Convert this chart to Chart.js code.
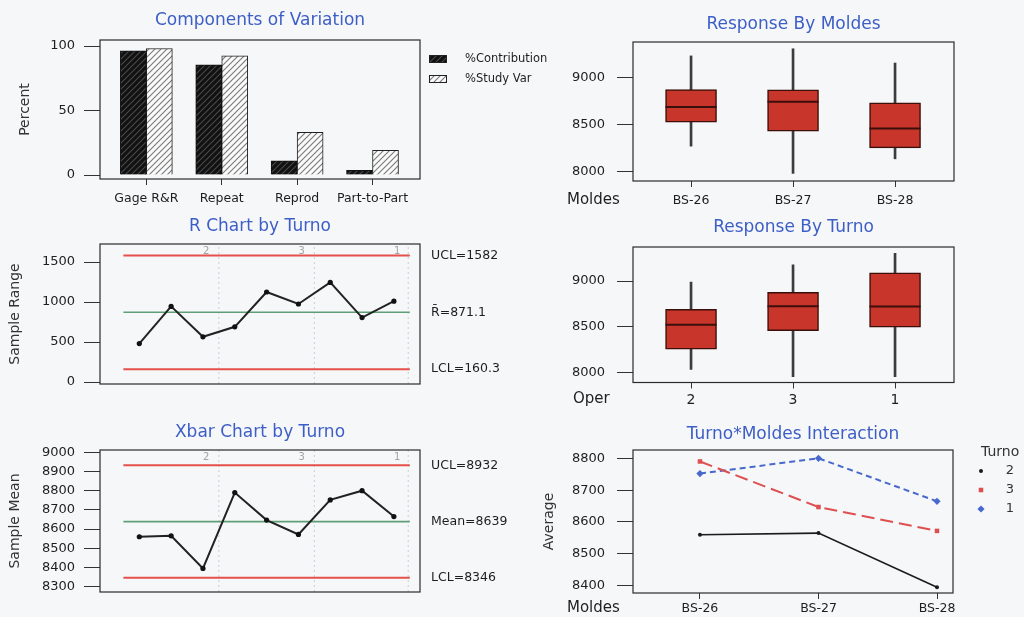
<!DOCTYPE html>
<html lang="en">
<head>
<meta charset="utf-8">
<title>Gage R&amp;R (ANOVA)</title>
<script src="https://cdn.jsdelivr.net/npm/chart.js@4.4.1/dist/chart.umd.min.js"></script>
<style>
  html, body { margin: 0; padding: 0; background: #f6f7f9; }
  #sheet { position: relative; width: 1024px; height: 617px; overflow: hidden; }
  #sheet canvas { position: absolute; }
</style>
</head>
<body>
<div id="sheet"></div>
<script>
// ---- data ----
const components = ['Gage R&R', 'Repeat', 'Reprod', 'Part-to-Part'];
const pctContribution = [96.3, 85.4, 10.9, 3.7];
const pctStudyVar = [98.1, 92.4, 33.0, 19.2];
const percentTicks = [0, 50, 100];

const subgroups = [1, 2, 3, 4, 5, 6, 7, 8, 9];
const sampleRange = [480, 945, 565, 690, 1125, 975, 1245, 805, 1010];
const rangeTicks = [0, 500, 1000, 1500];
const rUCL = 1582, rBar = 871.1, rLCL = 160.3;

const sampleMean = [8560, 8565, 8395, 8790, 8647, 8572, 8752, 8800, 8665];
const meanTicks = [8300, 8400, 8500, 8600, 8700, 8800, 8900, 9000];
const xUCL = 8932, xMean = 8639, xLCL = 8346;

const turnoOrder = ['2', '3', '1'];
const groupLast = [3, 6, 9];
const groupBreaks = [3.5, 6.5, 9.45];
const limitSpan = [0.5, 9.5];

const moldes = ['BS-26', 'BS-27', 'BS-28'];
const moldesMin = [8270, 7980, 8135];
const moldesQ1 = [8524, 8428, 8251];
const moldesMedian = [8686, 8743, 8457];
const moldesQ3 = [8871, 8868, 8731];
const moldesMax = [9230, 9306, 9154];

const turnoMin = [8032, 7954, 7954];
const turnoQ1 = [8255, 8457, 8494];
const turnoMedian = [8521, 8725, 8720];
const turnoQ3 = [8691, 8877, 9089];
const turnoMax = [8989, 9178, 9302];
const responseTicks = [8000, 8500, 9000];

const turno2Avg = [8560, 8565, 8395];
const turno3Avg = [8790, 8647, 8572];
const turno1Avg = [8752, 8800, 8665];
const averageTicks = [8400, 8500, 8600, 8700, 8800];

// ---- look ----
const FONT = '"DejaVu Sans", "Liberation Sans", Arial, sans-serif';
const TITLE_BLUE = '#3d5ec6';
const TITLE_SIZE = 17;
const TITLE_LH = TITLE_SIZE * 1.2;
const INK = '#1e1e1e';
const LIMIT_RED = '#e4504a';
const CENTER_GREEN = '#5f9f78';
const BOX_RED = '#c8352b';
const BOX_EDGE = '#3b0f0b';

Chart.defaults.font.family = FONT;
Chart.defaults.color = INK;
Chart.defaults.animation = false;
Chart.defaults.plugins.legend.display = false;
Chart.defaults.plugins.tooltip.enabled = false;

// box around every plot area
Chart.register({
  id: 'frame',
  afterDraw(chart) {
    const { ctx, chartArea: a } = chart;
    ctx.save();
    ctx.strokeStyle = '#2a2a2a';
    ctx.lineWidth = 1.2;
    ctx.strokeRect(a.left, a.top, a.right - a.left, a.bottom - a.top);
    ctx.restore();
  }
});

function makeCanvas(rect) {
  const c = document.createElement('canvas');
  c.width = rect.w;
  c.height = rect.h;
  c.style.left = rect.x + 'px';
  c.style.top = rect.y + 'px';
  document.getElementById('sheet').appendChild(c);
  return c;
}

// places the plot area of a panel at fixed page coordinates
function panelSetup(rect, plot, yWidth, xHeight, titleGap, titleText) {
  const tb = titleGap - TITLE_LH / 2;
  return {
    layout: {
      padding: {
        left: plot.l - rect.x - yWidth,
        right: rect.x + rect.w - plot.r,
        top: plot.t - rect.y - TITLE_LH - tb,
        bottom: rect.y + rect.h - xHeight - plot.b
      }
    },
    title: {
      display: true, text: titleText, fullSize: false, color: TITLE_BLUE,
      font: { size: TITLE_SIZE, weight: 'normal' }, padding: { top: 0, bottom: tb }
    }
  };
}

function yAxis(min, max, ticks, width, opts) {
  const o = opts || {};
  return {
    type: 'linear', position: 'left', min, max,
    afterBuildTicks: s => { s.ticks = ticks.map(v => ({ value: v })); },
    afterFit: s => { s.width = width; },
    grid: { drawOnChartArea: false, tickLength: o.tick || 16, tickColor: '#333', tickWidth: 1 },
    border: { display: false },
    ticks: { font: { size: 13 }, padding: o.pad || 9, color: INK, callback: v => String(v) },
    title: {
      display: !!o.title, text: o.title || '', color: '#333',
      font: { size: 14 }, padding: { top: o.titlePad || 0, bottom: 0 }
    }
  };
}

function xAxis(min, max, positions, labels, height, fontSize, pad) {
  return {
    type: 'linear', position: 'bottom', min, max, offset: false,
    display: height > 0,
    afterBuildTicks: s => { s.ticks = positions.map(v => ({ value: v })); },
    afterFit: s => { s.height = height; },
    grid: { drawOnChartArea: false, offset: false, tickLength: 6, tickColor: '#333' },
    border: { display: false },
    ticks: {
      font: { size: fontSize || 12.5 }, padding: pad === undefined ? 5 : pad, color: INK,
      autoSkip: false, maxRotation: 0, callback: (v, i) => labels[i]
    }
  };
}

function textPlugin(id, items) {
  return {
    id,
    afterDraw(chart) {
      const ctx = chart.ctx;
      ctx.save();
      items.forEach(t => {
        ctx.font = (t.size || 13) + 'px ' + FONT;
        ctx.fillStyle = t.color || INK;
        ctx.textAlign = t.align || 'left';
        ctx.textBaseline = 'middle';
        ctx.fillText(t.text, t.x(chart), t.y(chart));
      });
      ctx.restore();
    }
  };
}

function hatch(ctx, bg, fg) {
  const c = document.createElement('canvas');
  c.width = 6; c.height = 6;
  const g = c.getContext('2d');
  g.fillStyle = bg;
  g.fillRect(0, 0, 6, 6);
  g.strokeStyle = fg;
  g.lineWidth = 1.1;
  g.beginPath();
  g.moveTo(-1, 7); g.lineTo(7, -1);
  g.moveTo(-4, 4); g.lineTo(4, -4);
  g.moveTo(2, 10); g.lineTo(10, 2);
  g.stroke();
  return ctx.createPattern(c, 'repeat');
}

// ---- Components of Variation ----
(function () {
  const rect = { x: 0, y: 0, w: 560, h: 210 };
  const plot = { l: 100, t: 40, r: 420, b: 179 };
  const canvas = makeCanvas(rect);
  const ctx = canvas.getContext('2d');
  const darkHatch = hatch(ctx, '#111', '#4a4a4a');
  const lightHatch = hatch(ctx, '#fafafa', '#7a7a7a');
  const setup = panelSetup(rect, plot, 84, 31, 19, 'Components of Variation');
  const idx = components.map((_, i) => i);

  const legend = {
    id: 'compLegend',
    afterDraw(chart) {
      const c = chart.ctx;
      [['%Contribution', darkHatch, 59], ['%Study Var', lightHatch, 79]].forEach(([label, fill, y]) => {
        c.save();
        c.fillStyle = fill;
        c.fillRect(429, y - 3.5, 17, 7);
        c.strokeStyle = '#222';
        c.lineWidth = 1;
        c.strokeRect(429.5, y - 3.5, 17, 7);
        c.font = '11.5px ' + FONT;
        c.fillStyle = INK;
        c.textBaseline = 'middle';
        c.fillText(label, 465, y);
        c.restore();
      });
    }
  };

  new Chart(canvas, {
    type: 'bar',
    data: {
      datasets: [
        {
          label: '%Contribution',
          data: idx.map(i => ({ x: i, y: pctContribution[i] })),
          backgroundColor: darkHatch, borderColor: '#111', borderWidth: 1,
          barThickness: 26
        },
        {
          label: '%Study Var',
          data: idx.map(i => ({ x: i, y: pctStudyVar[i] })),
          backgroundColor: lightHatch, borderColor: '#222', borderWidth: 1,
          barThickness: 26
        }
      ]
    },
    options: {
      responsive: false,
      layout: setup.layout,
      plugins: { title: setup.title },
      scales: {
        x: xAxis(-0.615, 3.63, idx, components, 31, 12.5, 6),
        y: yAxis(-3.1, 104.7, percentTicks, 84, { title: 'Percent', titlePad: 0.6, tick: 16, pad: 9 })
      }
    },
    plugins: [legend]
  });
})();

// ---- R and Xbar charts by Turno ----
function controlChart(rect, plot, titleGap, titleText, yTitle, values, limits, labels, yMin, yMax, yTicks) {
  const canvas = makeCanvas(rect);
  const setup = panelSetup(rect, plot, 94, 0, titleGap, titleText);
  const flat = (y, color, width) => ({
    data: limitSpan.map(x => ({ x, y })),
    showLine: true, borderColor: color, borderWidth: width, pointRadius: 0
  });
  const breaks = groupBreaks.map(b => ({
    data: [{ x: b, y: yMin }, { x: b, y: yMax }],
    showLine: true, borderColor: '#c9cdd6', borderWidth: 1, borderDash: [2, 3], pointRadius: 0
  }));

  const side = textPlugin('limitLabels', labels.map((txt, i) => ({
    text: txt, size: 12.5,
    x: ch => ch.chartArea.right + 11,
    y: ch => ch.scales.y.getPixelForValue(limits[i])
  })));
  const groups = textPlugin('groupLabels', turnoOrder.map((g, i) => ({
    text: g, size: 10, color: '#a3a3a3', align: 'center',
    x: ch => ch.scales.x.getPixelForValue(groupLast[i] + 0.1),
    y: ch => ch.chartArea.top + 7
  })));

  new Chart(canvas, {
    type: 'scatter',
    data: {
      datasets: [
        {
          data: subgroups.map((s, i) => ({ x: s, y: values[i] })),
          showLine: true, borderColor: '#222', borderWidth: 2,
          pointRadius: 2.6, pointBackgroundColor: '#111', pointBorderWidth: 0
        },
        flat(limits[0], LIMIT_RED, 2),
        flat(limits[1], CENTER_GREEN, 1.6),
        flat(limits[2], LIMIT_RED, 2),
        ...breaks
      ]
    },
    options: {
      responsive: false,
      layout: setup.layout,
      plugins: { title: setup.title },
      scales: {
        x: xAxis(-0.235, 9.82, [], [], 0),
        y: yAxis(yMin, yMax, yTicks, 94, { title: yTitle, titlePad: 0.6, tick: 16, pad: 9 })
      }
    },
    plugins: [side, groups]
  });
}

controlChart(
  { x: 0, y: 210, w: 560, h: 200 }, { l: 100, t: 244, r: 420, b: 384 }, 17,
  'R Chart by Turno', 'Sample Range', sampleRange,
  [rUCL, rBar, rLCL], ['UCL=' + rUCL, 'R\u0304=' + rBar, 'LCL=' + rLCL],
  -25, 1725, rangeTicks
);

controlChart(
  { x: 0, y: 410, w: 560, h: 207 }, { l: 100, t: 450, r: 420, b: 592 }, 17,
  'Xbar Chart by Turno', 'Sample Mean', sampleMean,
  [xUCL, xMean, xLCL], ['UCL=' + xUCL, 'Mean=' + xMean, 'LCL=' + xLCL],
  8272, 9012, meanTicks
);

// ---- box plots ----
function boxChart(rect, plot, titleGap, titleText, cats, lo, q1, med, q3, hi, yMin, yMax,
                  factorName, factorX, xHeight, fontSize, pad, labelDrop) {
  const canvas = makeCanvas(rect);
  const setup = panelSetup(rect, plot, 70, xHeight, titleGap, titleText);
  const idx = cats.map((_, i) => i);
  const factor = textPlugin('factorName', [{
    text: factorName, size: 15,
    x: () => factorX - rect.x,
    y: ch => ch.chartArea.bottom + labelDrop
  }]);

  new Chart(canvas, {
    type: 'bar',
    data: {
      datasets: [
        {
          data: idx.map(i => ({ x: i, y: [lo[i], hi[i]] })),
          backgroundColor: '#3c3c3c', borderWidth: 0,
          barThickness: 2, grouped: false, order: 3
        },
        {
          data: idx.map(i => ({ x: i, y: [q1[i], q3[i]] })),
          backgroundColor: BOX_RED, borderColor: BOX_EDGE, borderWidth: 1.5,
          borderSkipped: false, barThickness: 51, grouped: false, order: 2
        },
        {
          type: 'scatter',
          data: idx.map(i => ({ x: i, y: med[i] })),
          pointStyle: 'line', pointRadius: 25.5, borderColor: BOX_EDGE, borderWidth: 2,
          order: 1
        }
      ]
    },
    options: {
      responsive: false,
      layout: setup.layout,
      plugins: { title: setup.title },
      scales: {
        x: xAxis(-0.569, 2.578, idx, cats, xHeight, fontSize, pad),
        y: yAxis(yMin, yMax, responseTicks, 70, { tick: 16, pad: 12 })
      }
    },
    plugins: [factor]
  });
}

boxChart({ x: 560, y: 0, w: 464, h: 210 }, { l: 633, t: 42, r: 954, b: 181 }, 17,
  'Response By Moldes', moldes, moldesMin, moldesQ1, moldesMedian, moldesQ3, moldesMax,
  7899, 9378, 'Moldes', 567, 29, 12.5, 6, 19);

boxChart({ x: 560, y: 210, w: 464, h: 200 }, { l: 633, t: 247, r: 954, b: 386 }, 19,
  'Response By Turno', turnoOrder, turnoMin, turnoQ1, turnoMedian, turnoQ3, turnoMax,
  7890, 9372, 'Oper', 573, 24, 14, 3.5, 17);

// ---- Turno*Moldes interaction ----
(function () {
  const rect = { x: 520, y: 410, w: 504, h: 207 };
  const plot = { l: 633, t: 450, r: 953, b: 593 };
  const canvas = makeCanvas(rect);
  const setup = panelSetup(rect, plot, 94, 23, 15, 'Turno*Moldes Interaction');
  const idx = moldes.map((_, i) => i);
  const series = [
    { name: '2', values: turno2Avg, color: '#1b1b1b', dash: [], style: 'circle', r: 2, w: 1.6 },
    { name: '3', values: turno3Avg, color: '#de4f50', dash: [13, 6], style: 'rect', r: 3.2, w: 2 },
    { name: '1', values: turno1Avg, color: '#4768cc', dash: [6, 4], style: 'rectRot', r: 3.6, w: 2 }
  ];

  const legend = {
    id: 'turnoLegend',
    afterDraw(chart) {
      const c = chart.ctx;
      c.save();
      c.font = '14px ' + FONT;
      c.fillStyle = '#333';
      c.textBaseline = 'middle';
      c.fillText('Turno', 981 - rect.x, 452 - rect.y);
      series.forEach((s, k) => {
        const y = 471 + k * 19 - rect.y;
        c.fillStyle = s.color;
        c.strokeStyle = s.color;
        Chart.helpers.drawPoint(c, { pointStyle: s.style, rotation: 0, radius: s.r, borderWidth: 0 }, 981 - rect.x, y);
        c.fillStyle = '#333';
        c.textAlign = 'center';
        c.font = '13px ' + FONT;
        c.fillText(s.name, 1010 - rect.x, y);
        c.textAlign = 'left';
      });
      c.restore();
    }
  };
  const factor = textPlugin('interFactor', [{
    text: 'Moldes', size: 15, x: () => 567 - rect.x, y: ch => ch.chartArea.bottom + 15
  }]);

  new Chart(canvas, {
    type: 'scatter',
    data: {
      datasets: series.map(s => ({
        label: s.name,
        data: idx.map(i => ({ x: i, y: s.values[i] })),
        showLine: true, borderColor: s.color, borderWidth: s.w, borderDash: s.dash,
        pointStyle: s.style, pointRadius: s.r, pointBackgroundColor: s.color, pointBorderWidth: 0
      }))
    },
    options: {
      responsive: false,
      layout: setup.layout,
      plugins: { title: setup.title },
      scales: {
        x: xAxis(-0.565, 2.135, idx, moldes, 23, 12.5, 2),
        y: yAxis(8377, 8826, averageTicks, 94, { title: 'Average', titlePad: 1.6, tick: 16, pad: 12 })
      }
    },
    plugins: [legend, factor]
  });
})();
</script>
</body>
</html>
